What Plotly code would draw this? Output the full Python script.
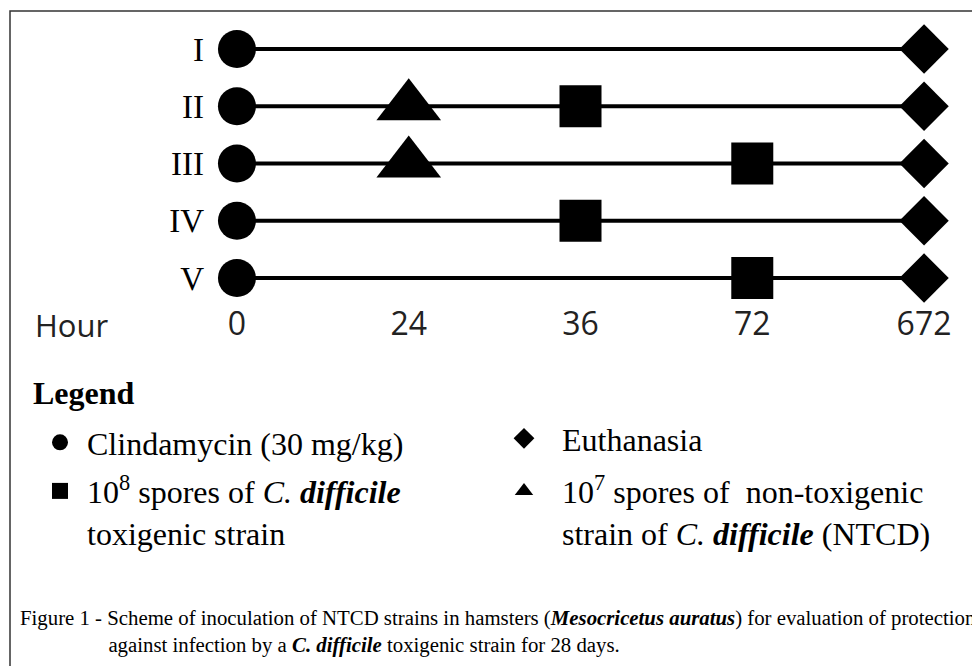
import plotly.graph_objects as go

# ---------------- data ----------------
groups = ["I", "II", "III", "IV", "V"]
hour_labels = ["0", "24", "36", "72", "672"]
clindamycin_hour = [0, 0, 0, 0, 0]
ntcd_hour = [None, 24, 24, None, None]
toxigenic_hour = [None, 36, 72, 36, 72]
euthanasia_hour = [672, 672, 672, 672, 672]

legend_names = {
    "clinda": "Clindamycin (30 mg/kg)",
    "euth": "Euthanasia",
    "tox": "10<sup>8</sup> spores of <i>C.</i> <b><i>difficile</i></b><br>toxigenic strain",
    "ntcd": "10<sup>7</sup> spores of  non-toxigenic<br>strain of <i>C.</i> <b><i>difficile</i></b> (NTCD)",
}
legend_title = "<b>Legend</b>"
axis_title = "Hour"
caption_line1 = ("Figure 1 - Scheme of inoculation of NTCD strains in hamsters "
                 "(<b><i>Mesocricetus auratus</i></b>) for evaluation of protection")
caption_line2 = "against infection by a <b><i>C. difficile</i></b> toxigenic strain for 28 days."

# ---------------- layout constants ----------------
W, H = 980, 666
OFF = 8  # page body margin of the browser
ML, MR, MT, MB = 197, 21, 17, 374
PW, PH = W - ML - MR, H - MT - MB


def px(x):
    """screen x pixel -> paper coordinate"""
    return (x - OFF - ML) / PW


def py(y):
    """screen y pixel -> paper coordinate"""
    return (H - MB - (y - OFF)) / PH


SERIF = "Liberation Serif, Times New Roman, serif"
SANS = "Open Sans, Arial, sans-serif"


def pairs(hours):
    xs, ys = [], []
    for g, h in zip(groups, hours):
        if h is not None:
            xs.append(str(h))
            ys.append(g)
    return xs, ys


fig = go.Figure()

# timeline lines, one per group
for i, g in enumerate(groups):
    row = [clindamycin_hour[i], ntcd_hour[i], toxigenic_hour[i], euthanasia_hour[i]]
    row = [str(h) for h in row if h is not None]
    row = sorted(row, key=lambda s: hour_labels.index(s))
    fig.add_trace(go.Scatter(
        x=row, y=[g] * len(row), mode="lines", cliponaxis=False,
        line=dict(color="black", width=4), showlegend=False, hoverinfo="skip"))

x, y = pairs(clindamycin_hour)
fig.add_trace(go.Scatter(x=x, y=y, mode="markers", name=legend_names["clinda"],
                         legend="legend", legendgroup="a", cliponaxis=False,
                         marker=dict(symbol="circle", size=38, color="black")))
x, y = pairs(toxigenic_hour)
fig.add_trace(go.Scatter(x=x, y=y, mode="markers", name=legend_names["tox"],
                         legend="legend", legendgroup="b", cliponaxis=False,
                         marker=dict(symbol="square", size=42, color="black")))
x, y = pairs(euthanasia_hour)
fig.add_trace(go.Scatter(x=x, y=y, mode="markers", name=legend_names["euth"],
                         legend="legend2", legendgroup="c", cliponaxis=False,
                         marker=dict(symbol="diamond", size=38, color="black")))
x, y = pairs(ntcd_hour)
fig.add_trace(go.Scatter(x=x, y=y, mode="markers", name=legend_names["ntcd"],
                         legend="legend2", legendgroup="d", cliponaxis=False,
                         marker=dict(symbol="triangle-up", size=56, color="black")))

legend_common = dict(
    orientation="v", xref="container", yref="container",
    xanchor="left", yanchor="top", valign="top",
    bgcolor="rgba(0,0,0,0)",
    font=dict(family=SERIF, size=32, color="black"),
)

caption = caption_line1 + "<br>" + "&nbsp;" * 17 + caption_line2

fig.update_layout(
    width=W, height=H,
    margin=dict(l=ML, r=MR, t=MT, b=MB, pad=0, autoexpand=False),
    paper_bgcolor="white", plot_bgcolor="white",
    xaxis=dict(type="category", categoryarray=hour_labels, categoryorder="array",
               range=[-0.186, 4.25], showgrid=False, zeroline=False, showline=False,
               ticks="", ticklabelstandoff=2,
               tickfont=dict(family=SANS, size=32, color="#222")),
    yaxis=dict(type="category", categoryarray=groups, categoryorder="array",
               range=[4.384, -0.419], showgrid=False, zeroline=False, showline=False,
               ticks="", tickfont=dict(family=SERIF, size=33, color="black")),
    showlegend=True,
    legend=dict(x=25 / W, y=1 - 407 / H, itemwidth=44, tracegroupgap=4,
                **legend_common),
    legend2=dict(x=478 / W, y=1 - 403 / H, itemwidth=66, tracegroupgap=8,
                 **legend_common),
    shapes=[dict(type="rect", xref="paper", yref="paper",
                 x0=px(10), x1=px(1000), y0=py(11), y1=py(720),
                 line=dict(color="#333", width=1.5), layer="below")],
    annotations=[
        dict(text=axis_title, xref="paper", yref="paper", x=px(33), y=py(325),
             xanchor="left", yanchor="middle", showarrow=False,
             font=dict(family=SANS, size=31, color="#222")),
        dict(text=legend_title, xref="paper", yref="paper", x=px(31), y=py(393),
             xanchor="left", yanchor="middle", showarrow=False,
             font=dict(family=SERIF, size=32, color="black")),
        dict(text=caption, xref="paper", yref="paper", x=px(18), y=py(631),
             xanchor="left", yanchor="middle", align="left", showarrow=False,
             font=dict(family=SERIF, size=20.8, color="black")),
    ],
)

fig.write_html("out.html")
